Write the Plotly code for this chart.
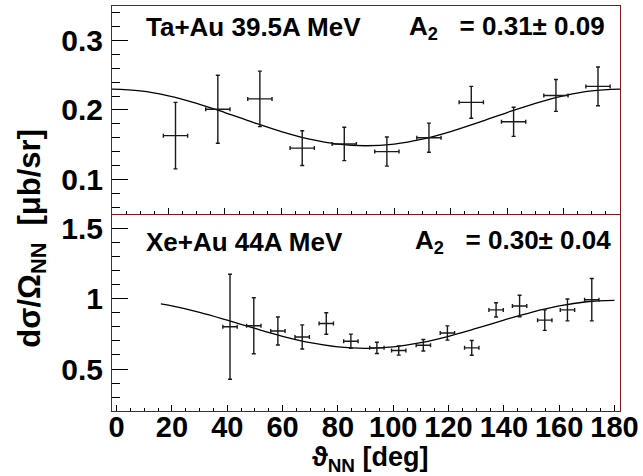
import plotly.graph_objects as go

# ---- data: top panel (Ta+Au 39.5A MeV) ----
ta_theta = [22.5, 37.5, 52.4, 67.4, 82.3, 97.4, 112.3, 127.3, 142.3, 157.3, 172.2]
ta_sigma = [0.163, 0.201, 0.216, 0.145, 0.151, 0.140, 0.160, 0.211, 0.183, 0.221, 0.234]
ta_err = [0.048, 0.049, 0.040, 0.025, 0.024, 0.021, 0.021, 0.023, 0.021, 0.023, 0.028]
ta_xerr = [4.3] * 11
ta_fit_theta = [0, 10, 20, 30, 40, 50, 60, 70, 80, 90, 100, 110, 120, 130, 140, 150, 160, 170, 180]
ta_fit_sigma = [0.2300, 0.2276, 0.2205, 0.2096, 0.1963, 0.1821, 0.1688, 0.1579, 0.1508, 0.1484,
                0.1508, 0.1579, 0.1688, 0.1821, 0.1963, 0.2096, 0.2205, 0.2276, 0.2300]

# ---- data: bottom panel (Xe+Au 44A MeV) ----
xe_theta = [41.0, 49.6, 58.3, 67.1, 75.8, 84.7, 94.1, 102.0, 110.9, 119.6, 128.4, 137.2, 145.7, 154.8, 163.0, 171.8]
xe_sigma = [0.802, 0.809, 0.771, 0.729, 0.825, 0.698, 0.651, 0.632, 0.670, 0.757, 0.651, 0.922, 0.950, 0.849, 0.922, 0.995]
xe_err = [0.375, 0.200, 0.100, 0.086, 0.077, 0.051, 0.040, 0.033, 0.041, 0.051, 0.053, 0.051, 0.077, 0.073, 0.078, 0.151]
xe_xerr = [2.6] * 16
xe_fit_theta = [16, 20, 30, 40, 50, 60, 70, 80, 90, 100, 110, 120, 130, 140, 150, 160, 170, 180]
xe_fit_sigma = [0.9645, 0.9505, 0.9049, 0.8489, 0.7894, 0.7334, 0.6878, 0.6580, 0.6477,
                0.6580, 0.6878, 0.7334, 0.7894, 0.8489, 0.9049, 0.9505, 0.9803, 0.9906]

x_ticks = [0, 20, 40, 60, 80, 100, 120, 140, 160, 180]

FONT = "Liberation Sans, Arial, sans-serif"
FRAME = "#7a1a1a"
ERRC = "#1a1a1a"

fig = go.Figure()

def add_points(x, y, ey, ex, xa, ya):
    fig.add_trace(go.Scatter(
        x=x, y=y, mode="markers", xaxis=xa, yaxis=ya,
        marker=dict(size=0.1, color=ERRC),
        error_y=dict(type="data", array=ey, visible=True, color=ERRC, thickness=1.4, width=2),
        error_x=dict(type="data", array=ex, visible=True, color=ERRC, thickness=1.4, width=2),
        showlegend=False, hoverinfo="skip"))

def add_fit(x, y, xa, ya):
    fig.add_trace(go.Scatter(
        x=x, y=y, mode="lines", xaxis=xa, yaxis=ya,
        line=dict(color="black", width=1.3, shape="spline"),
        showlegend=False, hoverinfo="skip"))

add_fit(ta_fit_theta, ta_fit_sigma, "x2", "y2")
add_points(ta_theta, ta_sigma, ta_err, ta_xerr, "x2", "y2")
add_fit(xe_fit_theta, xe_fit_sigma, "x", "y")
add_points(xe_theta, xe_sigma, xe_err, xe_xerr, "x", "y")

ytickfont = dict(family=FONT, size=30, color="black")
xtickfont = dict(family=FONT, size=29, color="black")

common_axis = dict(showline=True, linecolor=FRAME, linewidth=1, mirror=True,
                   showgrid=False, zeroline=False, ticks="inside", tickcolor="black")

fig.update_layout(
    width=643, height=476,
    margin=dict(l=112, r=18, t=4, b=65),
    paper_bgcolor="white", plot_bgcolor="white",
    xaxis=dict(**common_axis, domain=[0, 1], anchor="y", range=[-1.67, 182],
               tickvals=x_ticks, ticktext=[f"<b>{v}</b>" for v in x_ticks],
               ticklen=6, tickfont=xtickfont, ticklabelstandoff=-10,
               ticklabeloverflow="allow",
               minor=dict(dtick=5, tick0=0, ticklen=3, ticks="inside", tickcolor="black")),
    yaxis=dict(**common_axis, domain=[0, 0.484], anchor="x", range=[0.2, 1.6],
               tickvals=[0.5, 1, 1.5], ticktext=["<b>0.5</b>", "<b>1</b>", "<b>1.5</b>"],
               ticklen=16, tickfont=ytickfont, ticklabelstandoff=2,
               minor=dict(dtick=0.1, tick0=0, ticklen=8, ticks="inside", tickcolor="black")),
    xaxis2=dict(**common_axis, domain=[0, 1], anchor="y2", range=[0, 180],
                tickvals=x_ticks, showticklabels=False, ticklen=6,
                minor=dict(dtick=5, tick0=0, ticklen=3, ticks="inside", tickcolor="black")),
    yaxis2=dict(**common_axis, domain=[0.4865, 1], anchor="x2", range=[0.05, 0.35],
                tickvals=[0.1, 0.2, 0.3], ticktext=["<b>0.1</b>", "<b>0.2</b>", "<b>0.3</b>"],
                ticklen=16, tickfont=ytickfont, ticklabelstandoff=2,
                minor=dict(dtick=0.02, tick0=0, ticklen=8, ticks="inside", tickcolor="black")),
)

txt = dict(family=FONT, size=26, color="black")
annotations = [
    dict(text="<b>Ta+Au 39.5A MeV</b>", x=(144 - 112) / 513, y=(411 - 25.5) / 407,
         xanchor="left", yanchor="middle"),
    dict(text="<b>A<sub>2</sub>   = 0.31± 0.09</b>", x=(612 - 112) / 513, y=(411 - 25.5) / 407,
         xanchor="right", yanchor="middle"),
    dict(text="<b>Xe+Au 44A MeV</b>", x=(144 - 112) / 513, y=(411 - 241) / 407,
         xanchor="left", yanchor="middle"),
    dict(text="<b>A<sub>2</sub>   = 0.30± 0.04</b>", x=(618 - 112) / 513, y=(411 - 241) / 407,
         xanchor="right", yanchor="middle"),
]
for a in annotations:
    fig.add_annotation(xref="paper", yref="paper", showarrow=False, font=txt, **a)

fig.add_annotation(xref="paper", yref="paper", showarrow=False,
                   text="<b>ϑ<sub>NN</sub> [deg]</b>", x=(373 - 112) / 513, y=(411 - 459) / 407,
                   xanchor="center", yanchor="middle",
                   font=dict(family=FONT, size=27, color="black"))
fig.add_annotation(xref="paper", yref="paper", showarrow=False,
                   text="<b>dσ/Ω<sub>NN</sub>  [μb/sr]</b>", x=(31 - 112) / 513, y=(411 - 237) / 407,
                   xanchor="center", yanchor="middle", textangle=-90,
                   font=dict(family=FONT, size=31, color="black"))

fig.write_html("out.html", config={"displayModeBar": False},
               post_script="document.body.style.margin='0px';document.body.style.padding='0px';")
